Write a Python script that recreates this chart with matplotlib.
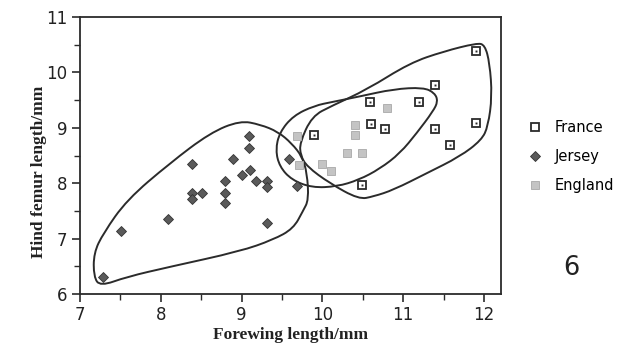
import numpy as np
import matplotlib
matplotlib.use("Agg")
import matplotlib.pyplot as plt
from matplotlib.path import Path
from matplotlib.patches import PathPatch

# ---- point data ----
france_x = [9.89, 10.59, 10.60, 10.78, 11.19, 11.39, 11.39, 11.58, 11.90, 11.90, 10.49]
france_y = [8.88, 9.46, 9.07, 8.98, 9.46, 9.77, 8.98, 8.69, 10.39, 9.09, 7.96]

jersey_x = [7.29, 7.51, 8.09, 8.39, 8.39, 8.39, 8.51, 8.80, 8.80, 8.80, 8.89,
            9.00, 9.09, 9.09, 9.10, 9.18, 9.31, 9.31, 9.31, 9.59, 9.69]
jersey_y = [6.31, 7.13, 7.35, 8.34, 7.83, 7.72, 7.83, 8.04, 7.83, 7.64, 8.44,
            8.15, 8.86, 8.64, 8.24, 8.04, 8.04, 7.93, 7.28, 8.44, 7.95]

england_x = [9.69, 9.71, 9.99, 10.11, 10.31, 10.49, 10.40, 10.40, 10.60, 10.80, 11.19]
england_y = [8.86, 8.33, 8.35, 8.22, 8.54, 8.54, 9.06, 8.88, 9.07, 9.36, 9.46]

# ---- hand-drawn outlines (points along each curve) ----
jersey_hull_x = [7.25, 7.17, 7.17, 7.29, 7.58, 8.11, 8.61, 8.98, 9.23, 9.45, 9.62,
                 9.75, 9.81, 9.83, 9.76, 9.64, 9.39, 8.98, 8.11, 7.58]
jersey_hull_y = [6.14, 6.31, 6.74, 7.10, 7.70, 8.36, 8.91, 9.13, 9.06, 8.93, 8.72,
                 8.48, 8.18, 7.70, 7.50, 7.18, 6.98, 6.77, 6.49, 6.31]

england_hull_x = [9.42, 9.47, 9.64, 9.90, 10.13, 10.47, 10.88, 11.25, 11.39, 11.43,
                  11.37, 11.17, 10.96, 10.71, 10.45, 10.18, 9.87, 9.62, 9.47]
england_hull_y = [8.60, 8.92, 9.22, 9.40, 9.47, 9.57, 9.70, 9.73, 9.63, 9.48,
                  9.30, 8.91, 8.54, 8.26, 8.06, 7.94, 7.92, 8.06, 8.30]

france_hull_x = [9.72, 9.87, 10.12, 10.55, 11.08, 11.50, 11.91, 12.01, 12.07, 12.10,
                 12.05, 11.97, 11.70, 11.29, 10.88, 10.63, 10.45, 10.09, 9.81, 9.73]
france_hull_y = [8.73, 9.21, 9.40, 9.69, 10.17, 10.38, 10.53, 10.50, 10.17, 9.57,
                 9.03, 8.78, 8.48, 8.18, 7.88, 7.76, 7.71, 8.00, 8.30, 8.50]

x_ticks = [7, 8, 9, 10, 11, 12]
y_ticks = [6, 7, 8, 9, 10, 11]


def smooth_closed(xs, ys):
    # quadratic bezier through midpoints, control points = given points
    p = np.column_stack([xs, ys])
    n = len(p)
    mids = (p + np.roll(p, -1, axis=0)) / 2
    verts = [mids[-1]]
    codes = [Path.MOVETO]
    for i in range(n):
        verts += [p[i], mids[i]]
        codes += [Path.CURVE3, Path.CURVE3]
    return Path(verts, codes)


fig = plt.figure(figsize=(6.27, 3.49), dpi=100)
ax = fig.add_axes([0.1276, 0.1576, 0.6714, 0.7934])
ink = "#2b2b2b"

for hx, hy in [(jersey_hull_x, jersey_hull_y), (england_hull_x, england_hull_y),
               (france_hull_x, france_hull_y)]:
    ax.add_patch(PathPatch(smooth_closed(hx, hy), fill=False, ec=ink, lw=1.4))

ax.plot(england_x, england_y, ls="none", marker="s", ms=5.5, mfc="#c4c4c4",
        mec="#a8a8a8", mew=0.6, label="England")
ax.plot(jersey_x, jersey_y, ls="none", marker="D", ms=4.6, mfc="#5a5a5a",
        mec="#333333", mew=0.6, label="Jersey")
ax.plot(france_x, france_y, ls="none", marker="s", ms=5.8, mfc="white",
        mec=ink, mew=1.3, label="France")
ax.plot(france_x, france_y, ls="none", marker="s", ms=1.4, mfc=ink, mec=ink, mew=0)

ax.set_xlim(7, 12.21)
ax.set_ylim(6, 11)
ax.set_xticks(x_ticks)
ax.set_yticks(y_ticks)
ax.set_xticks(np.arange(7.5, 12.1, 1.0), minor=True)
ax.set_yticks(np.arange(6.5, 11, 1.0), minor=True)
ax.tick_params(which="major", direction="out", length=6, width=1.2, color=ink,
               labelsize=12, labelcolor="#222222", pad=3)
ax.tick_params(which="minor", direction="out", length=4, width=1.0, color=ink)
for lab in ax.get_xticklabels() + ax.get_yticklabels():
    lab.set_fontfamily("DejaVu Sans")
for s in ax.spines.values():
    s.set_linewidth(1.3)
    s.set_color(ink)

serif = {"family": "Liberation Serif", "weight": "bold", "size": 12.5, "color": "#222222"}
ax.set_xlabel("Forewing length/mm", fontdict=serif, labelpad=2)
ax.set_ylabel("Hind femur length/mm", fontdict=serif)
ax.yaxis.set_label_coords(-0.078, 0.44)

h, l = ax.get_legend_handles_labels()
order = [2, 1, 0]
fig.legend([h[i] for i in order], [l[i] for i in order], loc="upper left",
           bbox_to_anchor=(0.82, 0.694), frameon=False,
           labelspacing=0.95, handletextpad=0.9, handlelength=1.0,
           prop={"family": "DejaVu Sans", "size": 10.5})

fig.text(0.911, 0.212, "6", fontsize=18.5, family="DejaVu Sans", color="#222222",
         ha="center", va="baseline")

fig.savefig("out.png", dpi=100, facecolor="white")
